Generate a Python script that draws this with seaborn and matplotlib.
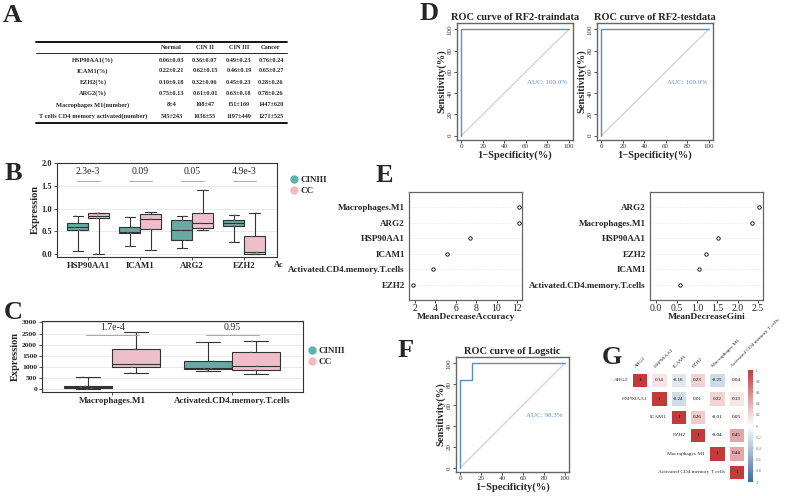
import numpy as np
import pandas as pd
import matplotlib
matplotlib.use("Agg")
import matplotlib.pyplot as plt
from matplotlib.lines import Line2D
from matplotlib.colors import LinearSegmentedColormap
import seaborn as sns

sns.set_style("white")
plt.rcParams["font.family"] = ["Liberation Serif", "DejaVu Serif"]
plt.rcParams["axes.unicode_minus"] = True

# ---------------- data ----------------
# A: table
table_cols = ["Normal", "CIN II", "CIN III", "Cancer"]
table_rows = ["HSP90AA1(%)", "ICAM1(%)", "EZH2(%)", "ARG2(%)",
              "Macrophages M1(number)", "T cells CD4 memory activated(number)"]
normal_vals = ["0.06±0.03", "0.22±0.21", "0.10±0.18", "0.75±0.13", "8±4", "545±243"]
cin2_vals = ["0.36±0.07", "0.62±0.15", "0.32±0.06", "0.61±0.01", "108±47", "1036±55"]
cin3_vals = ["0.49±0.23", "0.46±0.19", "0.45±0.23", "0.63±0.18", "151±169", "1197±449"]
cancer_vals = ["0.76±0.24", "0.65±0.27", "0.28±0.26", "0.78±0.26", "1447±620", "1271±525"]

groups = ["CINIII", "CC"]

# B: box summaries (min, q1, median, q3, max)
genes = ["HSP90AA1", "ICAM1", "ARG2", "EZH2"]
gene_cin3 = [[0.05, 0.52, 0.59, 0.67, 0.84],
             [0.16, 0.45, 0.47, 0.59, 0.81],
             [0.12, 0.30, 0.53, 0.74, 0.83],
             [0.26, 0.62, 0.69, 0.75, 0.85]]
gene_cc = [[0.00, 0.78, 0.84, 0.89, 0.91],
           [0.07, 0.54, 0.77, 0.87, 0.92],
           [0.52, 0.57, 0.68, 0.89, 1.41],
           [0.00, 0.00, 0.03, 0.38, 0.91]]
gene_pvals = ["2.3e-3", "0.09", "0.05", "4.9e-3"]

# C: immune cell box summaries
cells = ["Macrophages.M1", "Activated.CD4.memory.T.cells"]
cell_cin3 = [[0, 40, 90, 150, 560],
             [830, 930, 950, 1270, 2100]]
cell_cc = [[750, 990, 1140, 1810, 2550],
           [690, 870, 1050, 1680, 2150]]
cell_pvals = ["1.7e-4", "0.95"]

# D/F: ROC curves (1-specificity %, sensitivity %)
rf_train_fpr = [0, 0, 100]
rf_train_tpr = [0, 100, 100]
rf_test_fpr = [0, 0, 100]
rf_test_tpr = [0, 100, 100]
logit_fpr = [0, 0, 11, 11, 100]
logit_tpr = [0, 84, 84, 100, 100]
diag_line = [0, 100]

# E: variable importance
acc_vars = ["Macrophages.M1", "ARG2", "HSP90AA1", "ICAM1", "Activated.CD4.memory.T.cells", "EZH2"]
acc_vals = [12.2, 12.2, 7.4, 5.1, 3.8, 1.8]
gini_vars = ["ARG2", "Macrophages.M1", "HSP90AA1", "EZH2", "ICAM1", "Activated.CD4.memory.T.cells"]
gini_vals = [2.52, 2.35, 1.52, 1.23, 1.05, 0.59]

# G: correlation matrix
corr_names = ["ARG2", "HSP90AA1", "ICAM1", "EZH2", "Macrophages M1", "Activated CD4 memory T cells"]
corr_arg2 = [1, 0.14, -0.16, 0.23, -0.25, 0.04]
corr_hsp = [0.14, 1, -0.24, 0.01, 0.22, 0.13]
corr_icam = [-0.16, -0.24, 1, 0.26, -0.01, 0.05]
corr_ezh2 = [0.23, 0.01, 0.26, 1, -0.04, 0.45]
corr_macro = [-0.25, 0.22, -0.01, -0.04, 1, 0.44]
corr_cd4 = [0.04, 0.13, 0.05, 0.45, 0.44, 1]

# ---------------- figure ----------------
W, H = 788, 496
fig = plt.figure(figsize=(W / 100, H / 100), dpi=100)


def px_axes(l, t, r, b):
    return fig.add_axes([l / W, 1 - b / H, (r - l) / W, (b - t) / H])


teal = "#5BB5AD"
pink = "#F6B7C6"
blue = "#5B8FC4"

over = fig.add_axes([0, 0, 1, 1])
over.set_xlim(0, W)
over.set_ylim(H, 0)
over.axis("off")

# panel letters
for letter, (x, y) in {"A": (3, 4), "B": (5, 162), "C": (4, 301), "D": (420, 2),
                       "E": (376, 164), "F": (398, 339), "G": (602, 346)}.items():
    over.text(x, y, letter, fontsize=19, fontweight="bold", ha="left", va="top")

# ---- A: table ----
col_x = [171.5, 205, 239, 271]
row_y = [60, 71, 82, 93.3, 105, 116]
over.plot([36, 287], [41.7, 41.7], color="black", lw=1.3)
over.plot([36, 287], [53.3, 53.3], color="black", lw=0.6)
over.plot([36, 287], [122.7, 122.7], color="black", lw=1.3)
for cx, name in zip(col_x, table_cols):
    over.text(cx, 47.5, name, fontsize=4.6, fontweight="bold", ha="center", va="center")
for ry, name in zip(row_y, table_rows):
    over.text(93, ry, name, fontsize=4.6, fontweight="bold", ha="center", va="center")
for cx, vals in zip(col_x, [normal_vals, cin2_vals, cin3_vals, cancer_vals]):
    for ry, v in zip(row_y, vals):
        over.text(cx, ry, v, fontsize=4.5, fontweight="bold", ha="center", va="center")


def long_df(cats, cin3, cc):
    recs = []
    for cat, a, b in zip(cats, cin3, cc):
        for v in a:
            recs.append({"cat": cat, "group": "CINIII", "value": v})
        for v in b:
            recs.append({"cat": cat, "group": "CC", "value": v})
    return pd.DataFrame(recs)


def box_panel(ax, df, cats, pvals, line_y, text_y, tick_fs, ytick_fs):
    ax.grid(True, color="#E6E6E6", lw=0.6)
    ax.set_axisbelow(True)
    sns.boxplot(data=df, x="cat", y="value", hue="group", order=cats, hue_order=groups,
                palette=[teal, pink], whis=(0, 100), showfliers=False, width=0.8,
                linecolor="#333333", linewidth=0.8, legend=False, ax=ax)
    np.random.seed(1)
    sns.stripplot(data=df, x="cat", y="value", hue="group", order=cats, hue_order=groups,
                  dodge=True, jitter=0.12, size=1.2, palette=["#888888", "#888888"],
                  alpha=0.6, legend=False, ax=ax)
    for i, p in enumerate(pvals):
        ax.plot([i - 0.22, i + 0.22], [line_y, line_y], color="#AAAAAA", lw=0.7)
        ax.text(i, text_y, p, ha="center", va="center", fontsize=7)
    ax.set_xlabel("")
    ax.set_ylabel("Expression", fontsize=7.5, fontweight="bold", labelpad=1.5)
    for s in ax.spines.values():
        s.set_color("#333333")
        s.set_linewidth(0.8)
    ax.tick_params(axis="both", length=2, width=0.6, color="#333333", pad=1.5, bottom=True, left=True)
    ax.tick_params(axis="x", labelsize=tick_fs)
    ax.tick_params(axis="y", labelsize=ytick_fs)
    handles = [Line2D([], [], marker="o", ls="", color=c, markersize=5) for c in [teal, pink]]
    return handles


def bold_ticks(ax):
    for lab in ax.get_xticklabels() + ax.get_yticklabels():
        lab.set_fontweight("bold")


# ---- B ----
axB = px_axes(57, 163, 277, 257)
hB = box_panel(axB, long_df(genes, gene_cin3, gene_cc), genes, gene_pvals, 1.6, 1.83, 6.3, 6)
axB.set_xlim(-0.6, 3.63)
axB.set_ylim(-0.075, 2.01)
axB.set_yticks([0, 0.5, 1.0, 1.5, 2.0])
axB.set_yticklabels(["0.0", "0.5", "1.0", "1.5", "2.0"])
bold_ticks(axB)
axB.legend(hB, groups, loc="center left", bbox_to_anchor=(1.04, 0.76), frameon=False,
           handletextpad=0.2, labelspacing=0.25, handlelength=1, borderaxespad=0,
           prop={"size": 6.5, "weight": "bold"})
axB.text(3.67, -0.26, "Ac", fontsize=6, fontweight="bold", ha="center", va="center", clip_on=False)

# ---- C ----
axC = px_axes(42, 321, 303, 392)
hC = box_panel(axC, long_df(cells, cell_cin3, cell_cc), cells, cell_pvals, 2430, 2750, 6.5, 5.4)
axC.set_xlim(-0.586, 1.59)
axC.set_ylim(-120, 3060)
axC.set_yticks(range(0, 3001, 500))
bold_ticks(axC)
axC.legend(hC, groups, loc="center left", bbox_to_anchor=(1.005, 0.5), frameon=False,
           handletextpad=0.2, labelspacing=0.25, handlelength=1, borderaxespad=0,
           prop={"size": 6.5, "weight": "bold"})


# ---- ROC panels ----
def roc_panel(ax, fpr, tpr, title, auc):
    sns.lineplot(x=diag_line, y=diag_line, color="#D5D5D5", lw=1.0, ax=ax)
    sns.lineplot(x=fpr, y=tpr, sort=False, estimator=None, color=blue, lw=1.0, ax=ax)
    ax.set_xlim(-4, 104)
    ax.set_ylim(-4, 106)
    ax.set_xticks(range(0, 101, 20))
    ax.set_yticks(range(0, 101, 20))
    ax.tick_params(labelsize=5, length=2, width=0.6, pad=1, colors="#333333", bottom=True, left=True)
    for lab in ax.get_yticklabels():
        lab.set_rotation(90)
        lab.set_va("center")
    for s in ax.spines.values():
        s.set_color("#666666")
        s.set_linewidth(1.0)
    ax.set_title(title, fontsize=7.5, fontweight="bold", pad=2)
    ax.set_xlabel("1\u2212Specificity(%)", fontsize=7.5, fontweight="bold", labelpad=1)
    ax.set_ylabel("Sensitivity(%)", fontsize=7.5, fontweight="bold", labelpad=1)
    ax.text(80, 50, auc, color=blue, fontsize=5, ha="center", va="center")


roc_panel(px_axes(457, 23, 573, 140), rf_train_fpr, rf_train_tpr, "ROC curve of RF2-traindata", "AUC: 100.0%")
roc_panel(px_axes(597, 23, 713, 140), rf_test_fpr, rf_test_tpr, "ROC curve of RF2-testdata", "AUC: 100.0%")
roc_panel(px_axes(456, 357, 569, 472), logit_fpr, logit_tpr, "ROC curve of Logstic", "AUC: 98.3%")


# ---- E ----
def dot_panel(ax, names, vals, xlabel, xlim, xticks, xticklabels):
    pos = list(range(len(names), 0, -1))
    for p in pos:
        ax.axhline(p, color="#DDDDDD", lw=0.5, ls=":")
    sns.scatterplot(x=vals, y=pos, marker="o", color="white", edgecolor="black",
                    linewidth=0.6, s=6, ax=ax, zorder=3)
    ax.set_ylim(0, 7)
    ax.set_xlim(*xlim)
    ax.set_yticks(pos)
    ax.set_yticklabels(names, fontsize=6.5, fontweight="bold")
    ax.set_xticks(xticks)
    ax.set_xticklabels(xticklabels, fontsize=7)
    ax.tick_params(length=2, width=0.6, pad=1, bottom=True, left=False)
    ax.set_xlabel(xlabel, fontsize=6.8, fontweight="bold", labelpad=0)
    for s in ax.spines.values():
        s.set_color("#666666")
        s.set_linewidth(0.9)


dot_panel(px_axes(409, 192, 522, 300), acc_vars, acc_vals, "MeanDecreaseAccuracy",
          (1.41, 12.5), [2, 4, 6, 8, 10, 12], ["2", "4", "6", "8", "10", "12"])
dot_panel(px_axes(650, 192, 763, 300), gini_vars, gini_vals, "MeanDecreaseGini",
          (-0.15, 2.62), [0, 0.5, 1.0, 1.5, 2.0, 2.5], ["0.0", "0.5", "1.0", "1.5", "2.0", "2.5"])

# ---- G ----
corr = np.array([corr_arg2, corr_hsp, corr_icam, corr_ezh2, corr_macro, corr_cd4])
mask = np.tril(np.ones_like(corr, dtype=bool), k=-1)
annot = np.array([["1" if v == 1 else f"{v:.2f}" for v in row] for row in corr])
cmap = LinearSegmentedColormap.from_list("corr", ["#3D6DA5", "#FFFFFF", "#C23B3B"])
axG = px_axes(630, 371, 746, 481)
axCb = px_axes(748, 370, 753, 482)
sns.heatmap(corr, mask=mask, cmap=cmap, vmin=-1, vmax=1, annot=annot, fmt="",
            annot_kws={"size": 3.6, "color": "black"}, linewidths=2.2, linecolor="white",
            xticklabels=False, yticklabels=False, ax=axG, cbar_ax=axCb,
            cbar_kws={"ticks": np.round(np.arange(-1, 1.01, 0.2), 1)})
for i, name in enumerate(corr_names):
    axG.text(i - 0.1, i + 0.5, name, ha="right", va="center", fontsize=3.9)
    axG.text(i + 0.35, -0.15, name, ha="left", va="bottom", fontsize=3.9,
             rotation=45, rotation_mode="anchor")
axCb.tick_params(labelsize=2.6, length=1, width=0.3, pad=1, colors="#555555")
axCb.set_yticklabels(["-1", "-0.8", "-0.6", "-0.4", "-0.2", "0", "0.2", "0.4", "0.6", "0.8", "1"])

fig.savefig("out.png", dpi=100)
